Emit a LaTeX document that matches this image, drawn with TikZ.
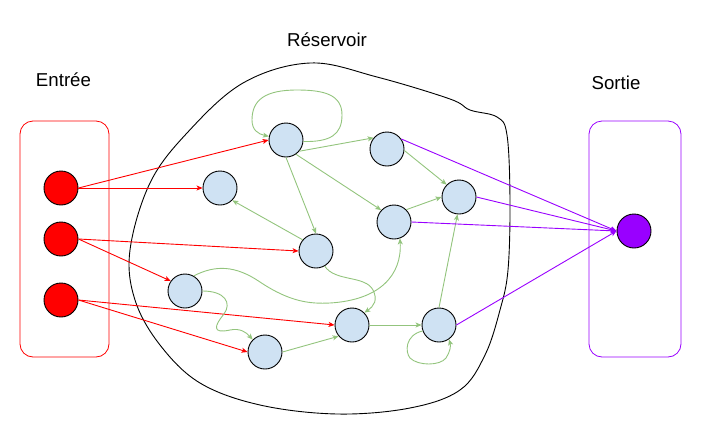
\documentclass[tikz,border=0pt]{standalone}
\usepackage{fontspec}
\setmainfont{Liberation Sans}
\usetikzlibrary{arrows.meta}
\definecolor{inred}{HTML}{FF0000}
\definecolor{resblue}{HTML}{CFE2F3}
\definecolor{outpurple}{HTML}{9900FF}
\definecolor{edgegreen}{HTML}{93C47D}
\tikzset{
  neuron/.style={circle, draw=black, line width=0.9pt, minimum size=34pt, inner sep=0pt},
  inneuron/.style={neuron, fill=inred},
  resneuron/.style={neuron, fill=resblue},
  outneuron/.style={neuron, fill=outpurple},
  tip/.style={-{Stealth[length=6pt,width=5pt,inset=1.5pt]}},
  redline/.style={tip, draw=inred, line width=0.9pt},
  greenline/.style={tip, draw=edgegreen, line width=0.9pt},
  purpleline/.style={tip, draw=outpurple, line width=0.9pt},
  layerbox/.style={rounded corners=13pt, line width=0.8pt},
  title/.style={font=\fontsize{18.67}{22}\selectfont, inner sep=0pt}
}
\begin{document}
\begin{tikzpicture}[x=1pt,y=-1pt]
\useasboundingbox (0,0) rectangle (721,429);
% boxes
\draw[layerbox, draw=inred] (20,121) rectangle (109,357);
\draw[layerbox, draw=outpurple] (589,121) rectangle (681,357);
% reservoir outline
\draw[line width=0.9pt] plot[smooth cycle, tension=0.6] coordinates {
  (130,250) (150,183) (187,133) (243,83) (310,63) (377,77) (450,99) (470,110)
  (497,117) (507,135) (510,200) (508,270) (500,310) (485,355) (460,390)
  (410,408) (337,414) (260,405) (200,383) (160,345) (135,300)};
% titles
\node[title] (tin) at (63.5,80) {Entrée};
\node[title] (tres) at (327,40) {Réservoir};
\node[title] (tout) at (616,83) {Sortie};
% input neurons
\node[inneuron] (I1) at (61,188) {};
\node[inneuron] (I2) at (61,239) {};
\node[inneuron] (I3) at (61,300) {};
% reservoir neurons
\node[resneuron] (R1) at (286,140) {};
\node[resneuron] (R2) at (220,188) {};
\node[resneuron] (R3) at (387,149) {};
\node[resneuron] (R4) at (459,197) {};
\node[resneuron] (R5) at (394,222) {};
\node[resneuron] (R6) at (316,251) {};
\node[resneuron] (R7) at (185,291) {};
\node[resneuron] (R8) at (265,352) {};
\node[resneuron] (R9) at (352,325) {};
\node[resneuron] (R10) at (439,325) {};
% output neuron
\node[outneuron] (O) at (634,231) {};
% input connections
\draw[redline] (I1.east) -- (R1.west);
\draw[redline] (I1.east) -- (R2.west);
\draw[redline] (I2.east) -- (R6.west);
\draw[redline] (I2.east) -- (R7.145);
\draw[redline] (I3.east) -- (R9.west);
\draw[redline] (I3.east) -- (R8.west);
% reservoir connections
\draw[greenline] (R1.-5) .. controls (330,142) and (342,135) .. (342,115)
  .. controls (342,95) and (325,90) .. (297,90)
  .. controls (265,90) and (252,100) .. (252,120)
  .. controls (252,130) and (258,134) .. (R1.168);
\draw[greenline] (R1.-40) -- (R3.140);
\draw[greenline] (R1.-90) -- (R6.90);
\draw[greenline] (R1.-55) -- (R5.137);
\draw[greenline] (R3.-5) -- (R4.135);
\draw[greenline] (R5.45) -- (R4.west);
\draw[greenline] (R6.140) -- (R2.-45);
\draw[greenline] (R7.60) .. controls (215,265) and (235,265) .. (260,282)
  .. controls (290,302) and (310,304) .. (330,303)
  .. controls (380,300) and (402,275) .. (R5.-70);
\draw[greenline] (R7.east) .. controls (225,291) and (232,303) .. (224,314)
  .. controls (214,326) and (212,334) .. (230,330)
  .. controls (240,328) and (246,332) .. (R8.135);
\draw[greenline] (R6.-60) .. controls (335,282) and (365,275) .. (373,290)
  .. controls (378,300) and (374,306) .. (R9.45);
\draw[greenline] (R8.east) -- (R9.-140);
\draw[greenline] (R9.east) -- (R10.west);
\draw[greenline] (R10.200) .. controls (405,335) and (405,352) .. (410,358)
  .. controls (418,366) and (440,366) .. (446,358)
  .. controls (450,352) and (451,346) .. (R10.-55);
\draw[greenline] (R10.north) -- (R4.-95);
% output connections
\draw[purpleline] (R3.35) -- (O.west);
\draw[purpleline] (R4.east) -- (O.west);
\draw[purpleline] (R5.east) -- (O.west);
\draw[purpleline] (R10.east) -- (O.west);
\end{tikzpicture}
\end{document}
